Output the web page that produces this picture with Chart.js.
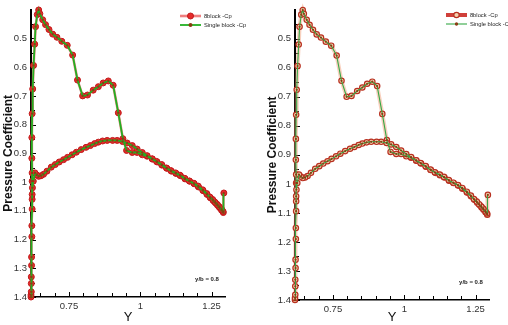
<!DOCTYPE html>
<html>
<head>
<meta charset="utf-8">
<script src="https://cdn.jsdelivr.net/npm/chart.js@4"></script>
<style>
  html, body { margin: 0; padding: 0; background: #fff; }
  body { position: relative; width: 508px; height: 325px; overflow: hidden; }
  canvas { position: absolute; top: 0; }
  #left { left: 0; }
  #right { left: 264px; }
</style>
</head>
<body>
<canvas id="left" width="254" height="325"></canvas>
<canvas id="right" width="244" height="325"></canvas>
<script>
//Upper surface: from the bottom of the leading edge, over the suction peak, to the trailing edge
const upperPos = [0.617, 0.617, 0.618, 0.618, 0.618, 0.619, 0.619, 0.620, 0.620, 0.621,
                  0.621, 0.621, 0.621, 0.621, 0.620, 0.620, 0.621, 0.623, 0.626, 0.630,
                  0.633, 0.639, 0.644, 0.648, 0.658, 0.668, 0.680, 0.693, 0.708, 0.725,
                  0.744, 0.763, 0.780, 0.798, 0.815, 0.835, 0.853, 0.870, 0.888, 0.905,
                  0.923, 0.939, 0.952, 0.972, 0.989, 1.007, 1.024, 1.042, 1.059, 1.076,
                  1.093, 1.109, 1.125, 1.141, 1.157, 1.173, 1.189, 1.204, 1.220, 1.234,
                  1.246, 1.256, 1.264, 1.271, 1.278, 1.285, 1.291];
const upperCp  = [1.400, 1.393, 1.382, 1.353, 1.330, 1.290, 1.261, 1.190, 1.152, 1.094,
                  1.060, 1.043, 0.997, 0.968, 0.917, 0.845, 0.762, 0.676, 0.594, 0.520,
                  0.459, 0.417, 0.401, 0.414, 0.435, 0.452, 0.469, 0.485, 0.496, 0.510,
                  0.524, 0.558, 0.645, 0.700, 0.697, 0.680, 0.668, 0.655, 0.648, 0.663,
                  0.759, 0.849, 0.890, 0.897, 0.897, 0.905, 0.910, 0.920, 0.930, 0.941,
                  0.952, 0.962, 0.970, 0.978, 0.989, 0.997, 1.006, 1.017, 1.030, 1.043,
                  1.055, 1.065, 1.073, 1.081, 1.089, 1.098, 1.106];

//Lower surface: leading edge to trailing edge
const lowerPos = [0.622, 0.625, 0.631, 0.637, 0.644, 0.652, 0.661, 0.673, 0.688, 0.702,
                  0.716, 0.731, 0.745, 0.761, 0.776, 0.793, 0.810, 0.825, 0.840, 0.853,
                  0.868, 0.884, 0.903, 0.919, 0.938, 0.954, 0.972, 0.989, 1.007, 1.024,
                  1.042, 1.057, 1.075, 1.092, 1.107, 1.124, 1.139, 1.156, 1.172, 1.188,
                  1.203, 1.219, 1.233, 1.244, 1.254, 1.262, 1.270, 1.277, 1.285, 1.290,
                  1.293];
const lowerCp  = [1.020, 0.997, 0.968, 0.975, 0.980, 0.978, 0.973, 0.962, 0.948, 0.939,
                  0.930, 0.922, 0.914, 0.905, 0.896, 0.887, 0.879, 0.873, 0.866, 0.861,
                  0.857, 0.855, 0.855, 0.855, 0.859, 0.864, 0.873, 0.885, 0.897, 0.908,
                  0.919, 0.928, 0.939, 0.951, 0.960, 0.968, 0.976, 0.987, 0.996, 1.004,
                  1.014, 1.027, 1.040, 1.052, 1.061, 1.070, 1.078, 1.086, 1.095, 1.102,
                  1.038];

//Ticks (minor ones get no label)
const xTicks = [0.65, 0.7, 0.75, 0.8, 0.85, 0.9, 0.95, 1, 1.05, 1.1, 1.15, 1.2, 1.25];
const xLabels = [0.75, 1, 1.25];
const yTicks = [0.45, 0.5, 0.55, 0.6, 0.65, 0.7, 0.75, 0.8, 0.85, 0.9, 0.95,
                1, 1.05, 1.1, 1.15, 1.2, 1.25, 1.3, 1.35, 1.4];
const yLabels = [0.5, 0.6, 0.7, 0.8, 0.9, 1, 1.1, 1.2, 1.3, 1.4];

const seriesNames = ['8block -Cp', 'Single block -Cp'];
const noteText = 'y/b = 0.8';
const notePos = [1.234, 1.338];

const narrow = "'Liberation Sans Narrow', 'Liberation Sans', Arial, sans-serif";

//One closed curve: upper surface out, lower surface back
function surfaceLoop(){
    const pts = upperPos.map((p, i) => ({x: p, y: upperCp[i]}));
    for(let i = lowerPos.length - 1; i >= 0; i--){
        pts.push({x: lowerPos[i], y: lowerCp[i]});
    }
    return pts;
}

//Inward tick marks, legend samples (line + marker) and the y/b note
const extras = {
    id: 'extras',
    beforeDraw(chart, args, opts){
        const lg = chart.legend;
        lg.left = chart.chartArea.right - opts.legendDx;
        lg.right = lg.left + 90;
        lg.top = opts.legendTop;
        lg.bottom = lg.top + 30;
    },
    beforeDatasetsDraw(chart){
        const ctx = chart.ctx;
        const a = chart.chartArea;
        const xs = chart.scales.x, ys = chart.scales.y;
        ctx.save();
        ctx.strokeStyle = '#000';
        ctx.lineWidth = 1;
        ctx.beginPath();
        xs.ticks.forEach(t => {
            const p = Math.round(xs.getPixelForValue(t.value)) + 0.5;
            ctx.moveTo(p, a.bottom);
            ctx.lineTo(p, a.bottom - (t.major ? 5 : 4));
        });
        ys.ticks.forEach(t => {
            const p = Math.round(ys.getPixelForValue(t.value)) + 0.5;
            ctx.moveTo(a.left, p);
            ctx.lineTo(a.left + (t.major ? 5 : 4), p);
        });
        ctx.stroke();
        ctx.restore();
    },
    afterDraw(chart, args, opts){
        const ctx = chart.ctx;
        const lg = chart.legend;
        const lab = lg.options.labels;
        const rowH = Math.max(lab.boxHeight, lab.font.size);
        ctx.save();
        chart.data.datasets.forEach((ds, i) => {
            const x0 = lg.left + lab.padding;
            const y = lg.top + lab.padding + i * (rowH + lab.padding) + rowH / 2;
            ctx.strokeStyle = ds.legendLine || ds.borderColor;
            ctx.lineWidth = ds.borderWidth;
            ctx.beginPath();
            ctx.moveTo(x0, y);
            ctx.lineTo(x0 + lab.boxWidth, y);
            ctx.stroke();
            ctx.beginPath();
            ctx.arc(x0 + lab.boxWidth / 2, y, ds.pointRadius, 0, Math.PI * 2);
            ctx.fillStyle = ds.pointBackgroundColor;
            ctx.fill();
            ctx.lineWidth = ds.pointBorderWidth;
            ctx.strokeStyle = ds.pointBorderColor;
            ctx.stroke();
        });
        ctx.font = 'bold 6px ' + narrow;
        ctx.fillStyle = '#222';
        ctx.textAlign = 'center';
        ctx.textBaseline = 'middle';
        ctx.fillText(noteText, chart.scales.x.getPixelForValue(notePos[0]),
                     chart.scales.y.getPixelForValue(notePos[1]));
        ctx.restore();
    }
};

function makeChart(id, look){
    const ctx = document.getElementById(id).getContext('2d');
    return new Chart(ctx, {
        type: 'scatter',
        data: {
            datasets: [{
                label: seriesNames[0],
                data: surfaceLoop(),
                showLine: true,
                order: 1,
                clip: false,
                borderColor: look.redLine,
                legendLine: look.redLegend,
                borderWidth: look.redWidth,
                pointRadius: look.redRadius,
                pointBackgroundColor: look.redFill,
                pointBorderColor: look.redEdge,
                pointBorderWidth: look.redEdgeWidth
            }, {
                label: seriesNames[1],
                data: surfaceLoop(),
                showLine: true,
                order: 0,
                clip: false,
                borderColor: look.greenLine,
                borderWidth: look.greenWidth,
                pointRadius: 1.1,
                pointBackgroundColor: '#8a3b12',
                pointBorderColor: '#8a3b12',
                pointBorderWidth: 0
            }]
        },
        options: {
            responsive: false,
            animation: false,
            events: [],
            layout: {
                padding: {left: 0, right: look.padRight, top: 7, bottom: 0}
            },
            scales: {
                x: {
                    type: 'linear',
                    min: 0.617,
                    max: 1.297,
                    afterBuildTicks: (scale) => {
                        scale.ticks = xTicks.map(v => ({value: v, major: xLabels.includes(v)}));
                    },
                    afterFit: (scale) => { scale.height = look.xHeight; },
                    grid: {drawOnChartArea: false, drawTicks: false},
                    border: {color: '#000', width: 1.5},
                    ticks: {
                        autoSkip: false,
                        maxRotation: 0,
                        padding: 4,
                        color: '#333',
                        font: {size: 9.5, family: narrow},
                        callback: (v, i, ticks) => ticks[i].major ? String(v) : ''
                    },
                    title: {
                        display: true,
                        text: 'Y',
                        color: '#111',
                        font: {size: 13, family: 'Liberation Sans'},
                        padding: {top: 0, bottom: 0}
                    }
                },
                y: {
                    type: 'linear',
                    reverse: true,
                    min: 0.4,
                    max: 1.4,
                    afterBuildTicks: (scale) => {
                        scale.ticks = yTicks.map(v => ({value: v, major: yLabels.includes(v)}));
                    },
                    afterFit: (scale) => { scale.width = 31; },
                    grid: {drawOnChartArea: false, drawTicks: false},
                    border: {color: '#000', width: 2},
                    ticks: {
                        autoSkip: false,
                        padding: 4,
                        color: '#333',
                        font: {size: 9.5, family: narrow},
                        callback: (v, i, ticks) => ticks[i].major ? String(v) : ''
                    },
                    title: {
                        display: true,
                        text: 'Pressure Coefficient',
                        color: '#111',
                        font: {size: 12, weight: 'bold', family: 'Liberation Sans'},
                        padding: {top: 1, bottom: 0}
                    }
                }
            },
            plugins: {
                tooltip: {enabled: false},
                legend: {
                    position: 'chartArea',
                    align: 'start',
                    labels: {
                        boxWidth: 21,
                        boxHeight: 7,
                        padding: 2,
                        color: '#222',
                        font: {size: 5.8, family: narrow},
                        sort: (a, b) => a.datasetIndex - b.datasetIndex,
                        generateLabels: (chart) => Chart.defaults.plugins.legend.labels.generateLabels(chart)
                            .map(l => Object.assign(l, {fillStyle: 'rgba(0,0,0,0)', strokeStyle: 'rgba(0,0,0,0)', lineWidth: 0}))
                    }
                },
                extras: {legendDx: look.legendDx, legendTop: look.legendTop}
            }
        },
        plugins: [extras]
    });
}

makeChart('left', {
    padRight: 29, xHeight: 28, legendDx: 47, legendTop: 10.5,
    redLine: 'rgba(232, 90, 90, 0.7)', redLegend: '#ef7f7f', redWidth: 2.6,
    redRadius: 3, redFill: '#e62a2a', redEdge: '#c01a1a', redEdgeWidth: 1,
    greenLine: '#22b022', greenWidth: 1.8
});

makeChart('right', {
    padRight: 19, xHeight: 25, legendDx: 45, legendTop: 9.5,
    redLine: 'rgba(240, 150, 110, 0.45)', redLegend: '#d0403a', redWidth: 4,
    redRadius: 2.7, redFill: '#f4d2b0', redEdge: '#b83020', redEdgeWidth: 1.2,
    greenLine: '#35a845', greenWidth: 1.1
});
</script>
</body>
</html>
